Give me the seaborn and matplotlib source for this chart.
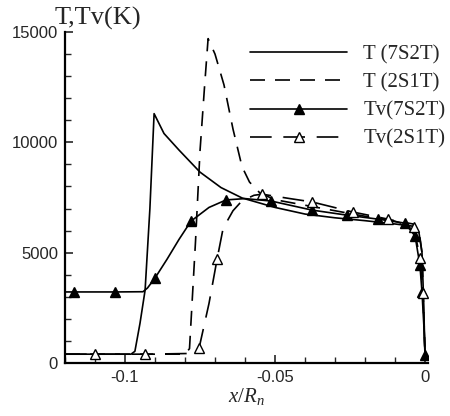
import numpy as np
import pandas as pd
import matplotlib
matplotlib.use("Agg")
import matplotlib.pyplot as plt
from matplotlib.ticker import MultipleLocator
import seaborn as sns

# T (7S2T)
x_t7 = [-0.1200, -0.0980, -0.0967, -0.0950, -0.0933, -0.0917, -0.0903, -0.0870, -0.0820,
        -0.0750, -0.0680, -0.0610, -0.0500, -0.0400, -0.0300, -0.0200, -0.0100, -0.0040,
        -0.0020, -0.0010, -0.0005, 0.0000]
y_t7 = [400, 400, 530, 1800, 3300, 7000, 11300, 10400, 9650,
        8650, 7950, 7480, 7050, 6750, 6580, 6450, 6300, 6200,
        5900, 5000, 3000, 400]

# T (2S1T)
x_t2 = [-0.1200, -0.0800, -0.0785, -0.0765, -0.0750, -0.0735, -0.0723, -0.0700, -0.0670,
        -0.0640, -0.0610, -0.0585, -0.0550, -0.0500, -0.0400, -0.0300, -0.0200, -0.0100,
        -0.0040, -0.0020, -0.0010, 0.0000]
y_t2 = [400, 400, 650, 5500, 9600, 12500, 14700, 14000, 12600,
        10600, 8900, 8200, 7700, 7400, 7150, 6900, 6650, 6450,
        6300, 6000, 5000, 400]

# Tv (7S2T)
x_tv7 = [-0.1200, -0.1170, -0.1033, -0.0940, -0.0925, -0.0900, -0.0860, -0.0820, -0.0780,
         -0.0720, -0.0663, -0.0600, -0.0513, -0.0377, -0.0260, -0.0157, -0.0067, -0.0033,
         -0.0017, -0.0010, -0.0003, 0.0000]
y_tv7 = [3220, 3220, 3220, 3230, 3400, 3850, 4700, 5600, 6430,
         7050, 7390, 7450, 7340, 6930, 6700, 6520, 6340, 5750,
         4440, 3220, 1500, 360]
mk_tv7 = [1, 2, 5, 8, 10, 12, 13, 14, 15, 16, 17, 18, 19, 21]

# Tv (2S1T)
x_tv2 = [-0.1200, -0.1100, -0.0933, -0.0790, -0.0770, -0.0753, -0.0720, -0.0693, -0.0673,
         -0.0640, -0.0610, -0.0570, -0.0543, -0.0450, -0.0377, -0.0240, -0.0123, -0.0037,
         -0.0017, -0.0007, 0.0000]
y_tv2 = [400, 400, 400, 430, 520, 680, 2700, 4710, 6100,
         6900, 7350, 7600, 7650, 7450, 7300, 6840, 6520, 6160,
         4760, 3170, 400]
mk_tv2 = [1, 2, 5, 7, 12, 14, 15, 16, 17, 18, 19]

labels = ["T (7S2T)", "T (2S1T)", "Tv(7S2T)", "Tv(2S1T)"]

sns.set_style("white")
plt.rcParams["font.family"] = ["Liberation Sans", "DejaVu Sans"]
plt.rcParams["mathtext.fontset"] = "custom"
plt.rcParams["mathtext.it"] = "Liberation Serif:italic"
plt.rcParams["mathtext.rm"] = "Liberation Serif"

fig = plt.figure(figsize=(4.5, 4.16), dpi=100)
ax = fig.add_axes([65 / 450, 1 - 363 / 416, 363 / 450, 331 / 416])

lw = 1.2
sns.lineplot(x=x_t7, y=y_t7, ax=ax, sort=False, estimator=None, color="black",
             linewidth=lw, label=labels[0])
sns.lineplot(x=x_t2, y=y_t2, ax=ax, sort=False, estimator=None, color="black",
             linewidth=lw, linestyle=(0, (9, 6)), label=labels[1])
sns.lineplot(x=x_tv7, y=y_tv7, ax=ax, sort=False, estimator=None, color="black",
             linewidth=lw, marker="^", markersize=7, markevery=mk_tv7,
             markerfacecolor="black", markeredgecolor="black", markeredgewidth=1,
             label=labels[2])
sns.lineplot(x=x_tv2, y=y_tv2, ax=ax, sort=False, estimator=None, color="black",
             linewidth=lw, linestyle=(0, (13, 7)), marker="^", markersize=7,
             markevery=mk_tv2, markerfacecolor="white", markeredgecolor="black",
             markeredgewidth=1, label=labels[3])

ax.set_xlim(-0.12, 0.001)
ax.set_ylim(0, 15000)
ax.xaxis.set_major_locator(MultipleLocator(0.05))
ax.xaxis.set_minor_locator(MultipleLocator(0.01))
ax.yaxis.set_major_locator(MultipleLocator(5000))
ax.yaxis.set_minor_locator(MultipleLocator(1000))
ax.set_xticks([-0.1, -0.05, 0])
ax.set_xticklabels(["-0.1", "-0.05", "0"])
ax.set_yticks([0, 5000, 10000, 15000])
ax.set_yticklabels(["0", "5000", "10000", "15000"])
ax.tick_params(which="major", direction="in", length=6, width=1.2, labelsize=12, pad=5)
ax.tick_params(which="minor", direction="in", length=4, width=1.0)
ax.tick_params(top=False, right=False, bottom=True, left=True, which="both")

for s in ["top", "right"]:
    ax.spines[s].set_visible(False)
for s in ["left", "bottom"]:
    ax.spines[s].set_linewidth(1.6)
    ax.spines[s].set_color("black")

ax.set_xlabel("$x/R_n$", fontsize=15, labelpad=1)
ax.set_ylabel("")
fig.text(98 / 450, 1 - 25 / 416, "T,Tv(K)", ha="center", va="baseline",
         fontsize=19, family="Liberation Serif")

leg = ax.legend(loc="upper left", bbox_to_anchor=(250 / 450, 1 - 45 / 416),
                bbox_transform=fig.transFigure, frameon=False, borderpad=0,
                borderaxespad=0, handlelength=4.66, handletextpad=0.77,
                labelspacing=0.41, numpoints=1,
                prop={"family": "Liberation Serif", "size": 15})

fig.savefig("out.png", dpi=100)
